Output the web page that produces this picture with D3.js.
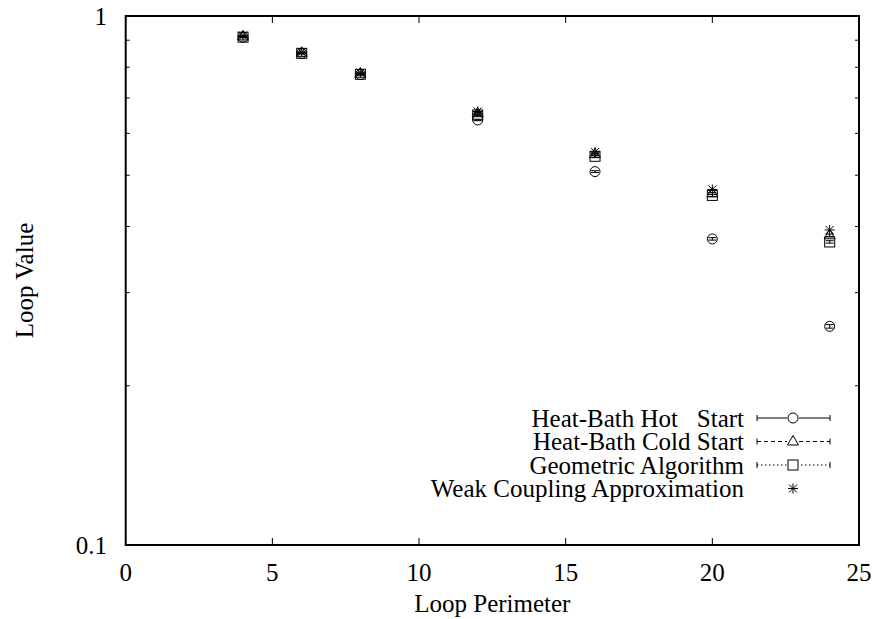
<!DOCTYPE html>
<html><head><meta charset="utf-8">
<script src="https://cdn.jsdelivr.net/npm/d3@7"></script>
<style>body{margin:0;background:#fff}svg text{font-family:"Liberation Serif","DejaVu Serif",serif;fill:#000}</style>
</head><body><svg id="c" width="876" height="619"></svg>
<script>
const perimeters = [4, 6, 8, 12, 16, 20, 24];
const hotStart   = [0.912, 0.850, 0.775, 0.636, 0.508, 0.379, 0.259];
const hotErr     = [0.002, 0.002, 0.002, 0.002, 0.002, 0.002, 0.002];
const coldStart  = [0.915, 0.852, 0.778, 0.655, 0.548, 0.462, 0.385];
const coldErr    = [0.002, 0.002, 0.002, 0.002, 0.002, 0.002, 0.002];
const geometric  = [0.912, 0.850, 0.776, 0.650, 0.543, 0.458, 0.374];
const geomErr    = [0.002, 0.002, 0.002, 0.002, 0.002, 0.002, 0.002];
const weakCoupling = [0.918, 0.855, 0.781, 0.660, 0.553, 0.470, 0.394];
const xTicks = [0, 5, 10, 15, 20, 25];
const yMajor = [0.1, 1];
const yMinor = [0.2, 0.3, 0.4, 0.5, 0.6, 0.7, 0.8, 0.9];
const seriesNames = ["Heat-Bath Hot\u00a0\u00a0\u00a0Start", "Heat-Bath Cold Start", "Geometric Algorithm", "Weak Coupling Approximation"];

const svg = d3.select("#c");
const L = 125.7, R = 859, T = 16, B = 545;
const x = d3.scaleLinear().domain([0, 25]).range([L, R]);
const y = d3.scaleLog().domain([0.1, 1]).range([B, T]);
const FS = 25;

// ticks
const g = svg.append("g").attr("stroke", "#000").attr("stroke-width", 1);
xTicks.forEach(t => {
  g.append("line").attr("x1", x(t)).attr("x2", x(t)).attr("y1", B).attr("y2", B - 7);
  g.append("line").attr("x1", x(t)).attr("x2", x(t)).attr("y1", T).attr("y2", T + 7);
});
yMajor.forEach(t => {
  g.append("line").attr("x1", L).attr("x2", L + 7).attr("y1", y(t)).attr("y2", y(t));
  g.append("line").attr("x1", R).attr("x2", R - 7).attr("y1", y(t)).attr("y2", y(t));
});
yMinor.forEach(t => {
  g.append("line").attr("x1", L).attr("x2", L + 4).attr("y1", y(t)).attr("y2", y(t));
  g.append("line").attr("x1", R).attr("x2", R - 4).attr("y1", y(t)).attr("y2", y(t));
});
svg.append("rect").attr("x", L).attr("y", T).attr("width", R - L).attr("height", B - T)
  .attr("fill", "none").attr("stroke", "#000").attr("stroke-width", 2);

// tick labels
xTicks.forEach(t => svg.append("text").attr("x", x(t)).attr("y", B + 36).attr("text-anchor", "middle")
  .attr("font-size", FS).text(t));
yMajor.forEach(t => svg.append("text").attr("x", 107).attr("y", y(t) + 9).attr("text-anchor", "end")
  .attr("font-size", FS).text(t));
svg.append("text").attr("x", (L + R) / 2).attr("y", 612).attr("text-anchor", "middle").attr("font-size", FS).text("Loop Perimeter");
svg.append("text").attr("transform", `translate(33,${(T + B) / 2}) rotate(-90)`).attr("text-anchor", "middle")
  .attr("font-size", FS).text("Loop Value");

// markers
function marker(sel, type, cx, cy) {
  const s = 5;
  if (type === 0) sel.append("circle").attr("cx", cx).attr("cy", cy).attr("r", s).attr("fill", "none").attr("stroke", "#000");
  if (type === 1) sel.append("path").attr("d", `M${cx - s * 1.1},${cy + s * 0.7}L${cx + s * 1.1},${cy + s * 0.7}L${cx},${cy - s * 1.2}Z`).attr("fill", "none").attr("stroke", "#000");
  if (type === 2) sel.append("rect").attr("x", cx - s).attr("y", cy - s).attr("width", 2 * s).attr("height", 2 * s).attr("fill", "none").attr("stroke", "#000");
  if (type === 3) {
    const p = sel.append("g").attr("stroke", "#000");
    p.append("line").attr("x1", cx - s).attr("x2", cx + s).attr("y1", cy).attr("y2", cy);
    p.append("line").attr("x1", cx).attr("x2", cx).attr("y1", cy - s).attr("y2", cy + s);
    p.append("line").attr("x1", cx - s * 0.8).attr("x2", cx + s * 0.8).attr("y1", cy - s * 0.8).attr("y2", cy + s * 0.8);
    p.append("line").attr("x1", cx - s * 0.8).attr("x2", cx + s * 0.8).attr("y1", cy + s * 0.8).attr("y2", cy - s * 0.8);
  }
}
const series = [
  { vals: hotStart, err: hotErr, dash: null },
  { vals: coldStart, err: coldErr, dash: "4,3" },
  { vals: geometric, err: geomErr, dash: "1.5,2.5" },
  { vals: weakCoupling, err: null, dash: null }
];
const pg = svg.append("g");
series.forEach((s, si) => {
  s.vals.forEach((v, i) => {
    const cx = x(perimeters[i]), cy = y(v);
    if (s.err) {
      const e = s.err[i];
      const eg = pg.append("g").attr("stroke", "#000").attr("stroke-width", 1);
      eg.append("line").attr("x1", cx).attr("x2", cx).attr("y1", y(v - e)).attr("y2", y(v + e));
      eg.append("line").attr("x1", cx - 4).attr("x2", cx + 4).attr("y1", y(v - e)).attr("y2", y(v - e));
      eg.append("line").attr("x1", cx - 4).attr("x2", cx + 4).attr("y1", y(v + e)).attr("y2", y(v + e));
    }
    marker(pg, si, cx, cy);
  });
});

// legend
const legY = [418, 441.5, 465, 488.5];
const lg = svg.append("g");
seriesNames.forEach((name, i) => {
  const ly = legY[i];
  lg.append("text").attr("x", 744).attr("y", ly + 8.5).attr("text-anchor", "end").attr("font-size", FS).text(name);
  if (i < 3) {
    const sg = lg.append("g").attr("stroke", "#000").attr("stroke-width", 1);
    sg.append("line").attr("x1", 757).attr("x2", 830).attr("y1", ly).attr("y2", ly).attr("stroke-dasharray", series[i].dash);
    sg.append("line").attr("x1", 757).attr("x2", 757).attr("y1", ly - 3).attr("y2", ly + 3);
    sg.append("line").attr("x1", 830).attr("x2", 830).attr("y1", ly - 3).attr("y2", ly + 3);
    lg.append("rect").attr("x", 787).attr("y", ly - 6).attr("width", 12).attr("height", 12).attr("fill", "#fff");
  }
  marker(lg, i, 793, ly);
});
</script></body></html>
